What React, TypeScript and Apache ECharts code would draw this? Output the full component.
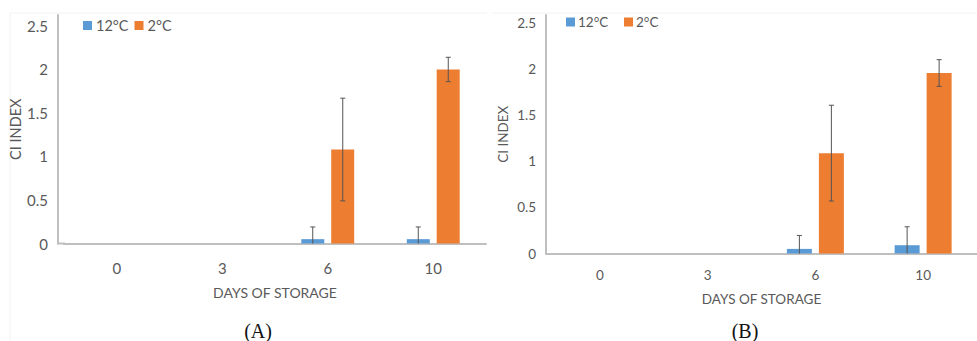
import React, { useEffect, useRef } from "react";
import * as echarts from "echarts";

const categories = ["0", "3", "6", "10"];
const yTicks = [0, 0.5, 1, 1.5, 2, 2.5];

// Panel A
const a12 = [0, 0, 0.05, 0.05];
const a12Err = [0, 0, 0.14, 0.14];
const a2 = [0, 0, 1.08, 2.0];
const a2Err = [0, 0, 0.59, 0.14];

// Panel B
const b12 = [0, 0, 0.05, 0.09];
const b12Err = [0, 0, 0.146, 0.2];
const b2 = [0, 0, 1.09, 1.96];
const b2Err = [0, 0, 0.52, 0.145];

const legendNames = ["12°C", "2°C"];
const BLUE = "#5B9BD5";
const ORANGE = "#ED7D31";
const AXIS = "#BFBFBF";
const TXT = "#595959";
const FONT = "Lato, 'Open Sans', sans-serif";

function errSeries(vals: number[], errs: number[], xi: number, offset: number) {
  return {
    type: "custom",
    xAxisIndex: xi,
    yAxisIndex: xi,
    z: 5,
    silent: true,
    data: vals.map((v, i) => [i, v, errs[i]]),
    renderItem: (params: any, api: any) => {
      const idx = api.value(0);
      const v = api.value(1);
      const e = api.value(2);
      if (!e || e <= 0) return null;
      const lowV = Math.max(0, v - e);
      const top = api.coord([idx, v + e]);
      const bot = api.coord([idx, lowV]);
      const x = top[0] + offset;
      const st = { stroke: "#555555", lineWidth: 1 };
      const children: any[] = [
        { type: "line", shape: { x1: x, y1: top[1], x2: x, y2: bot[1] }, style: st },
        { type: "line", shape: { x1: x - 2.5, y1: top[1], x2: x + 2.5, y2: top[1] }, style: st },
      ];
      if (v - e > 0) {
        children.push({ type: "line", shape: { x1: x - 2.5, y1: bot[1], x2: x + 2.5, y2: bot[1] }, style: st });
      }
      return { type: "group", children };
    },
  };
}

export default function App() {
  const ref = useRef<HTMLDivElement>(null);
  useEffect(() => {
    if (!ref.current) return;
    const chart = echarts.init(ref.current, null, { renderer: "svg" });

    const mkX = (gi: number, fs: number, nfs: number, margin: number, nameGap: number) => ({
      type: "category",
      gridIndex: gi,
      data: categories,
      axisTick: { show: false },
      axisLine: { lineStyle: { color: AXIS, width: 2 } },
      axisLabel: { color: TXT, fontSize: fs, fontFamily: FONT, margin },
      name: "DAYS OF STORAGE",
      nameLocation: "middle",
      nameGap,
      nameTextStyle: { color: TXT, fontSize: nfs, fontFamily: FONT },
    });
    const mkY = (gi: number, max: number, fs: number, nfs: number, offset: number, nameGap: number) => ({
      type: "value",
      gridIndex: gi,
      min: 0,
      max,
      interval: 0.5,
      offset,
      splitLine: { show: false },
      axisTick: { show: false },
      axisLine: { show: true, lineStyle: { color: AXIS, width: 2 } },
      axisLabel: {
        color: TXT,
        fontSize: fs,
        fontFamily: FONT,
        margin: 10,
        showMaxLabel: false,
        formatter: (v: number) => (yTicks.indexOf(Math.round(v * 100) / 100) >= 0 ? String(v) : ""),
      },
      name: "CI INDEX",
      nameLocation: "middle",
      nameGap,
      nameTextStyle: { color: TXT, fontSize: nfs, fontFamily: FONT },
    });

    chart.setOption({
      animation: false,
      backgroundColor: "#ffffff",
      grid: [
        { left: 64, top: 15, width: 422, height: 228.5 },
        { left: 546, top: 15, width: 448, height: 238.5 },
      ],
      xAxis: [mkX(0, 15, 14, 17, 42), mkX(1, 13.5, 13.5, 14, 38)],
      yAxis: [mkY(0, 2.626, 15, 14.5, 6, 34), mkY(1, 2.59, 13.5, 13.5, 0, 36)],
      legend: [
        {
          data: legendNames,
          left: 78,
          top: 13,
          itemWidth: 9,
          itemHeight: 9,
          itemGap: 6,
          icon: "rect",
          textStyle: { color: TXT, fontSize: 14.5, fontFamily: FONT, padding: [0, 0, 0, -1] },
          selectedMode: false,
        },
      ],
      series: [
        { name: "12°C", type: "bar", xAxisIndex: 0, yAxisIndex: 0, data: a12, barWidth: 23, barGap: "30%", itemStyle: { color: BLUE } },
        { name: "2°C", type: "bar", xAxisIndex: 0, yAxisIndex: 0, data: a2, barWidth: 23, barGap: "30%", itemStyle: { color: ORANGE } },
        { name: "12°C", type: "bar", xAxisIndex: 1, yAxisIndex: 1, data: b12, barWidth: 25, barGap: "28%", itemStyle: { color: BLUE } },
        { name: "2°C", type: "bar", xAxisIndex: 1, yAxisIndex: 1, data: b2, barWidth: 25, barGap: "28%", itemStyle: { color: ORANGE } },
        errSeries(a12, a12Err, 0, -15),
        errSeries(a2, a2Err, 0, 15),
        errSeries(b12, b12Err, 1, -16),
        errSeries(b2, b2Err, 1, 16),
      ],
      graphic: [
        { type: "line", shape: { x1: 57, y1: 243.5, x2: 65, y2: 243.5 }, style: { stroke: AXIS, lineWidth: 2 } },
        { type: "line", shape: { x1: 10, y1: 13, x2: 487, y2: 13 }, style: { stroke: "#F2F2F2", lineWidth: 1 } },
        { type: "line", shape: { x1: 10, y1: 13, x2: 10, y2: 341 }, style: { stroke: "#F2F2F2", lineWidth: 1 } },
        { type: "line", shape: { x1: 492, y1: 13, x2: 977, y2: 13 }, style: { stroke: "#F2F2F2", lineWidth: 1 } },
        // panel B legend (separately spaced)
        {
          type: "group",
          left: 566,
          top: 15,
          children: [
            { type: "rect", shape: { x: 0, y: 2, width: 9, height: 9 }, style: { fill: BLUE } },
            { type: "text", x: 12, y: 6.5, style: { text: legendNames[0], fill: TXT, font: `13.5px ${FONT}`, verticalAlign: "middle" } },
            { type: "rect", shape: { x: 58, y: 2, width: 9, height: 9 }, style: { fill: ORANGE } },
            { type: "text", x: 70, y: 6.5, style: { text: legendNames[1], fill: TXT, font: `13.5px ${FONT}`, verticalAlign: "middle" } },
          ],
        },
        { type: "text", x: 258, y: 331, style: { text: "(A)", fill: "#111", font: "20px 'Liberation Serif', 'DejaVu Serif', serif", align: "center", verticalAlign: "middle" } },
        { type: "text", x: 745, y: 331, style: { text: "(B)", fill: "#111", font: "20px 'Liberation Serif', 'DejaVu Serif', serif", align: "center", verticalAlign: "middle" } },
      ],
    });
    return () => chart.dispose();
  }, []);
  return <div ref={ref} style={{ position: "fixed", left: 0, top: 0, width: 977, height: 341 }} />;
}
